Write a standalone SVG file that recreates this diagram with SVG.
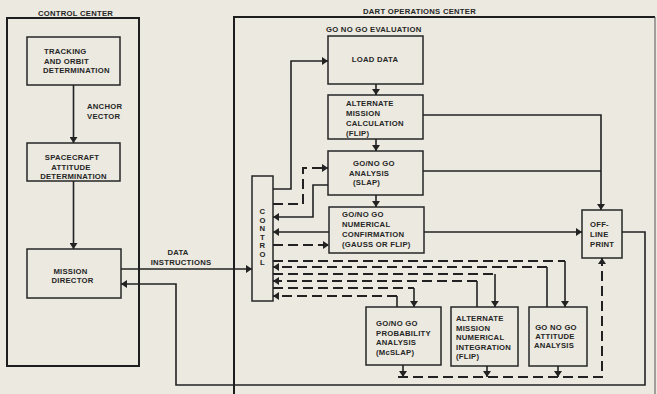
<svg xmlns="http://www.w3.org/2000/svg" width="657" height="394" viewBox="0 0 657 394">
<style>
.bg{fill:#ebe9e0}
.frame{fill:none;stroke:#1e1e1e;stroke-width:2}
.box{fill:none;stroke:#262626;stroke-width:1.5}
.c{fill:none;stroke:#222;stroke-width:1.6}
.d{fill:none;stroke:#222;stroke-width:2;stroke-dasharray:10 5}
text{font-family:"Liberation Sans",Arial,sans-serif;font-weight:bold;font-size:7.7px;fill:#262626;letter-spacing:0.25px}
.m{text-anchor:middle}
</style>
<defs>
<marker id="ah" viewBox="0 0 6 8" markerWidth="6" markerHeight="8" refX="6" refY="4" orient="auto" markerUnits="userSpaceOnUse">
<path d="M0,0 L6,4 L0,8 z" fill="#222"/>
</marker>
</defs>
<rect class="bg" x="0" y="0" width="657" height="394"/>

<g id="control-center">
<rect class="frame" x="7" y="18" width="132" height="348"/>
<text x="38" y="16">CONTROL CENTER</text>
</g>
<g id="dart-center">
<path class="frame" d="M234 394 V17 H655"/>
<path d="M655 17 V394" fill="none" stroke="#555" stroke-width="1"/>
<text x="363" y="14">DART OPERATIONS CENTER</text>
<text x="326" y="32">GO NO GO EVALUATION</text>
</g>

<g id="tracking">
<rect class="box" x="27" y="37" width="93" height="48"/>
<text x="44" y="54">TRACKING</text>
<text x="44" y="63.5">AND ORBIT</text>
<text x="43" y="73">DETERMINATION</text>
</g>
<g id="anchor-label">
<text x="87" y="109">ANCHOR</text>
<text x="87" y="119">VECTOR</text>
</g>
<g id="spacecraft">
<rect class="box" x="27" y="143" width="93" height="38"/>
<text class="m" x="72" y="160">SPACECRAFT</text>
<text class="m" x="71" y="170">ATTITUDE</text>
<text class="m" x="73.5" y="179">DETERMINATION</text>
</g>
<g id="mission-director">
<rect class="box" x="27" y="249" width="94" height="49"/>
<text class="m" x="70.5" y="274">MISSION</text>
<text class="m" x="72.5" y="283">DIRECTOR</text>
</g>
<g id="data-label">
<text class="m" x="178" y="255">DATA</text>
<text class="m" x="181" y="265">INSTRUCTIONS</text>
</g>

<g id="control">
<rect class="box" x="252" y="176" width="21" height="125"/>
<text class="m" x="262.5" y="214">C</text>
<text class="m" x="262.5" y="222.5">O</text>
<text class="m" x="262.5" y="231">N</text>
<text class="m" x="262.5" y="239.5">T</text>
<text class="m" x="262.5" y="248">R</text>
<text class="m" x="262.5" y="256.5">O</text>
<text class="m" x="262.5" y="265">L</text>
</g>
<g id="load-data">
<rect class="box" x="328" y="36" width="95" height="48"/>
<text class="m" x="375" y="62">LOAD DATA</text>
</g>
<g id="alt-mission-calc">
<rect class="box" x="328" y="95" width="95" height="44"/>
<text x="346" y="106">ALTERNATE</text>
<text x="346" y="116">MISSION</text>
<text x="346" y="126">CALCULATION</text>
<text x="346" y="136">(FLIP)</text>
</g>
<g id="slap">
<rect class="box" x="328" y="151" width="95" height="44"/>
<text x="353" y="166">GO/NO GO</text>
<text x="349" y="176">ANALYSIS</text>
<text x="353" y="185">(SLAP)</text>
</g>
<g id="num-confirm">
<rect class="box" x="329" y="207" width="95" height="46"/>
<text x="342" y="217">GO/NO GO</text>
<text x="342" y="227">NUMERICAL</text>
<text x="342" y="237">CONFIRMATION</text>
<text x="342" y="247">(GAUSS OR FLIP)</text>
</g>
<g id="offline-print">
<rect class="box" x="582" y="210" width="40" height="48"/>
<text x="590" y="227">OFF-</text>
<text x="590" y="237">LINE</text>
<text x="590" y="247">PRINT</text>
</g>
<g id="mcslap">
<rect class="box" x="366" y="307" width="75" height="58"/>
<text x="376" y="326">GO/NO GO</text>
<text x="376" y="336">PROBABILITY</text>
<text x="376" y="345">ANALYSIS</text>
<text x="376" y="355">(McSLAP)</text>
</g>
<g id="num-integration">
<rect class="box" x="451" y="307" width="67" height="59"/>
<text x="456" y="321">ALTERNATE</text>
<text x="456" y="331">MISSION</text>
<text x="456" y="340">NUMERICAL</text>
<text x="456" y="350">INTEGRATION</text>
<text x="456" y="359">(FLIP)</text>
</g>
<g id="attitude">
<rect class="box" x="529" y="307" width="58" height="59"/>
<text class="m" x="556" y="330">GO NO GO</text>
<text class="m" x="555" y="339">ATTITUDE</text>
<text class="m" x="554" y="348">ANALYSIS</text>
</g>

<g id="connectors">
<path class="c" d="M73.5 85 V143" marker-end="url(#ah)"/>
<path class="c" d="M73.5 181 V249" marker-end="url(#ah)"/>
<path class="c" d="M121 269 H252" marker-end="url(#ah)"/>
<path class="c" d="M273 189 H291 V61 H328" marker-end="url(#ah)"/>
<path class="c" d="M376 84 V95" marker-end="url(#ah)"/>
<path class="c" d="M376 139 V151" marker-end="url(#ah)"/>
<path class="c" d="M376 195 V207" marker-end="url(#ah)"/>
<path class="c" d="M328 185 H313 V217 H273" marker-end="url(#ah)"/>
<path class="c" d="M329 232 H273" marker-end="url(#ah)"/>
<path class="c" d="M424 232 H582" marker-end="url(#ah)"/>
<path class="c" d="M423 115 H601 V210" marker-end="url(#ah)"/>
<path class="c" d="M423 171 H601"/>
<path class="c" d="M622 232 H645 V385 H176 V284 H121" marker-end="url(#ah)"/>
<path class="d" d="M273 204 H303 V168 H328" marker-end="url(#ah)"/>
<path class="d" d="M273 245 H329" marker-end="url(#ah)"/>
<path class="d" d="M273 261 H565"/>
<path class="c" d="M565 261 V307" marker-end="url(#ah)"/>
<path class="c" d="M547 307 V267"/>
<path class="d" d="M547 267 H273" marker-end="url(#ah)"/>
<path class="d" d="M273 274 H495"/>
<path class="c" d="M495 274 V307" marker-end="url(#ah)"/>
<path class="c" d="M477 307 V281"/>
<path class="d" d="M477 281 H273" marker-end="url(#ah)"/>
<path class="d" d="M273 288 H414"/>
<path class="c" d="M414 288 V307" marker-end="url(#ah)"/>
<path class="c" d="M397 307 V296"/>
<path class="d" d="M397 296 H273" marker-end="url(#ah)"/>
<path class="c" d="M403 365 V377" marker-end="url(#ah)"/>
<path class="c" d="M487 366 V377" marker-end="url(#ah)"/>
<path class="c" d="M558 366 V377" marker-end="url(#ah)"/>
<path class="d" d="M398 377 H602 V258" marker-end="url(#ah)"/>
</g>
</svg>
